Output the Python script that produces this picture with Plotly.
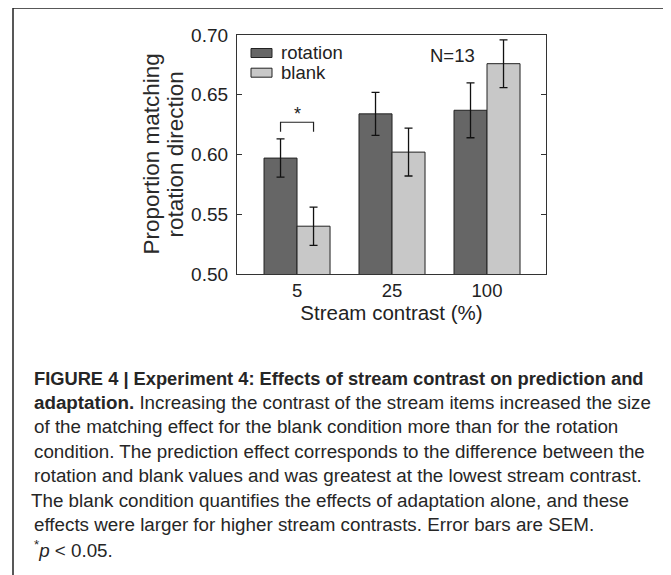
import plotly.graph_objects as go

# data
contrast = ['5', '25', '100']
rotation = [0.597, 0.634, 0.637]
rotation_sem = [0.016, 0.018, 0.023]
blank = [0.540, 0.602, 0.676]
blank_sem = [0.016, 0.020, 0.020]
sig_y = 0.627  # bracket over 5% contrast pair

caption = [
    '<b>FIGURE 4 | Experiment 4: Effects of stream contrast on prediction and</b>',
    '<b>adaptation.</b> Increasing the contrast of the stream items increased the size',
    'of the matching effect for the blank condition more than for the rotation',
    'condition. The prediction effect corresponds to the difference between the',
    'rotation and blank values and was greatest at the lowest stream contrast.',
    'The blank condition quantifies the effects of adaptation alone, and these',
    'effects were larger for higher stream contrasts. Error bars are SEM.',
    '<sup>*</sup><i>p</i> < 0.05.',
]

OFF = 8  # page body margin
W, H = 671 - OFF, 575 - OFF
L, R, T, B = 237, 546, 35, 274  # plot area in page pixels
FONT = 'Liberation Sans, Arial, sans-serif'
DARK = '#666666'
LIGHT = '#c8c8c8'
BARGAP = 0.305


def px(x):
    return (x - L) / (R - L)


def py(y):
    return (B - y) / (B - T)


xpos = list(range(len(contrast)))

fig = go.Figure()
fig.add_trace(go.Bar(
    x=xpos, y=rotation, name='rotation', marker_color=DARK,
    marker_line=dict(color='#222', width=1),
    error_y=dict(type='data', array=rotation_sem, color='#111', thickness=1.3, width=4)))
fig.add_trace(go.Bar(
    x=xpos, y=blank, name='blank', marker_color=LIGHT,
    marker_line=dict(color='#222', width=1),
    error_y=dict(type='data', array=blank_sem, color='#111', thickness=1.3, width=4)))

# significance bracket between the two bars of the first group
half = (1 - BARGAP) / 4
fig.add_shape(type='path', xref='x', yref='y',
              path=f'M {-half},{sig_y - 0.008} L {-half},{sig_y} L {half},{sig_y} L {half},{sig_y - 0.008}',
              line=dict(color='#222', width=1.2))
fig.add_annotation(x=0, y=sig_y, xref='x', yref='y', text='*', showarrow=False,
                   yanchor='bottom', yshift=-4, font=dict(size=18, color='#222'))

# hand-drawn legend
for i, (name, col) in enumerate([('rotation', DARK), ('blank', LIGHT)]):
    yc = 53 + i * 19.7
    fig.add_shape(type='rect', xref='paper', yref='paper',
                  x0=px(251), x1=px(272), y0=py(yc - 4.5), y1=py(yc + 4.5),
                  fillcolor=col, line=dict(color='#222', width=1))
    fig.add_annotation(x=px(279), y=py(yc), xref='paper', yref='paper', text=name,
                       showarrow=False, xanchor='left', yanchor='middle',
                       font=dict(size=18.5, color='#222'))

fig.add_annotation(x=px(428), y=py(55), xref='paper', yref='paper', text='N=13',
                   showarrow=False, xanchor='left', yanchor='middle',
                   font=dict(size=18.5, color='#222'))

# y axis title, two rotated lines
for text, xc in [('Proportion matching', 151), ('rotation direction', 175)]:
    fig.add_annotation(x=px(xc), y=py((T + B) / 2), xref='paper', yref='paper',
                       text=text, textangle=-90, showarrow=False,
                       xanchor='center', yanchor='middle',
                       font=dict(size=22.5, color='#2a2a2a'))

# outer frame
fig.add_shape(type='rect', xref='paper', yref='paper',
              x0=px(13), x1=px(669), y0=py(8), y1=py(590),
              line=dict(color='#222', width=1.5), fillcolor='rgba(0,0,0,0)')

# caption lines
for i, line in enumerate(caption):
    x0 = 28.5 if line.startswith('The blank') else 31.5
    size = 18.3 if i == 0 else 18.8
    fig.add_annotation(x=px(x0), y=py(378 + i * 24.4), xref='paper', yref='paper',
                       text=line, showarrow=False, xanchor='left', yanchor='middle',
                       font=dict(size=size, color='#262626'))

fig.update_xaxes(
    tickvals=xpos, ticktext=contrast, range=[-0.632, 2.621],
    showline=True, mirror=True, linecolor='#333', linewidth=1.2,
    ticks='', showgrid=False, zeroline=False,
    tickfont=dict(size=18.5, color='#222'),
    title=dict(text='Stream contrast (%)', font=dict(size=20.5, color='#222'), standoff=2))
fig.update_yaxes(
    range=[0.5, 0.7], tickvals=[0.5, 0.55, 0.6, 0.65, 0.7], tickformat='.2f',
    showline=True, mirror='ticks', linecolor='#333', linewidth=1.2,
    ticks='inside', ticklen=5, tickcolor='#333', ticklabelstandoff=4,
    showgrid=False, zeroline=False,
    tickfont=dict(size=19, color='#222'))

fig.update_layout(
    width=W, height=H,
    margin=dict(l=L - OFF, r=W - (R - OFF), t=T - OFF, b=H - (B - OFF), pad=0),
    barmode='group', bargap=BARGAP, bargroupgap=0,
    plot_bgcolor='white', paper_bgcolor='white',
    font=dict(family=FONT, color='#222'),
    showlegend=False,
)

fig.write_html('out.html')
